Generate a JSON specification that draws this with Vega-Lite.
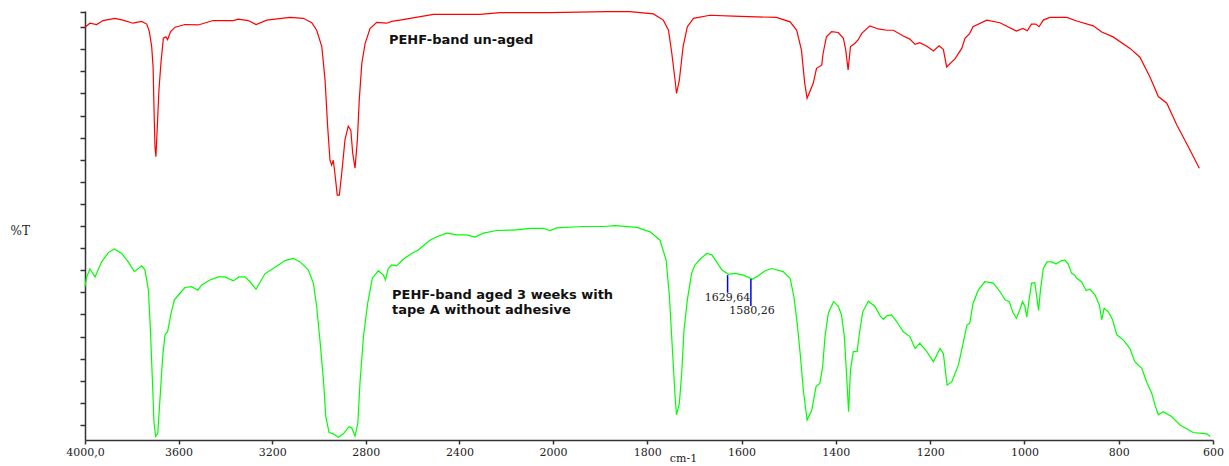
{
  "$schema": "https://vega.github.io/schema/vega-lite/v6.json",
  "autosize": "none",
  "width": 1128,
  "height": 429,
  "padding": {"left": 85, "top": 11, "right": 16, "bottom": 26},
  "background": "white",
  "config": {"view": {"stroke": null}},
  "layer": [
    {
      "data": {"values": [
        {"sample":"un-aged","wavenumber":4000,"T":90.0},{"sample":"un-aged","wavenumber":3979,"T":90.9},{"sample":"un-aged","wavenumber":3950,"T":90.6},{"sample":"un-aged","wavenumber":3923,"T":91.5},{"sample":"un-aged","wavenumber":3872,"T":92.0},{"sample":"un-aged","wavenumber":3838,"T":91.6},{"sample":"un-aged","wavenumber":3795,"T":90.9},{"sample":"un-aged","wavenumber":3758,"T":91.3},{"sample":"un-aged","wavenumber":3736,"T":90.7},{"sample":"un-aged","wavenumber":3725,"T":89.0},{"sample":"un-aged","wavenumber":3715,"T":85.6},{"sample":"un-aged","wavenumber":3709,"T":81.0},{"sample":"un-aged","wavenumber":3705,"T":71.3},{"sample":"un-aged","wavenumber":3701,"T":63.0},{"sample":"un-aged","wavenumber":3697,"T":60.7},{"sample":"un-aged","wavenumber":3691,"T":67.5},{"sample":"un-aged","wavenumber":3684,"T":75.8},{"sample":"un-aged","wavenumber":3675,"T":82.2},{"sample":"un-aged","wavenumber":3665,"T":87.5},{"sample":"un-aged","wavenumber":3654,"T":87.8},{"sample":"un-aged","wavenumber":3647,"T":87.2},{"sample":"un-aged","wavenumber":3634,"T":89.0},{"sample":"un-aged","wavenumber":3615,"T":90.0},{"sample":"un-aged","wavenumber":3573,"T":90.6},{"sample":"un-aged","wavenumber":3516,"T":90.5},{"sample":"un-aged","wavenumber":3452,"T":91.5},{"sample":"un-aged","wavenumber":3366,"T":91.5},{"sample":"un-aged","wavenumber":3345,"T":91.8},{"sample":"un-aged","wavenumber":3302,"T":91.5},{"sample":"un-aged","wavenumber":3269,"T":90.6},{"sample":"un-aged","wavenumber":3223,"T":91.6},{"sample":"un-aged","wavenumber":3124,"T":92.2},{"sample":"un-aged","wavenumber":3067,"T":92.0},{"sample":"un-aged","wavenumber":3031,"T":91.0},{"sample":"un-aged","wavenumber":3010,"T":89.3},{"sample":"un-aged","wavenumber":2988,"T":85.6},{"sample":"un-aged","wavenumber":2974,"T":78.0},{"sample":"un-aged","wavenumber":2963,"T":67.5},{"sample":"un-aged","wavenumber":2953,"T":59.9},{"sample":"un-aged","wavenumber":2946,"T":58.8},{"sample":"un-aged","wavenumber":2939,"T":59.9},{"sample":"un-aged","wavenumber":2932,"T":56.9},{"sample":"un-aged","wavenumber":2922,"T":52.0},{"sample":"un-aged","wavenumber":2913,"T":52.0},{"sample":"un-aged","wavenumber":2903,"T":56.9},{"sample":"un-aged","wavenumber":2889,"T":64.5},{"sample":"un-aged","wavenumber":2875,"T":67.6},{"sample":"un-aged","wavenumber":2864,"T":66.7},{"sample":"un-aged","wavenumber":2856,"T":61.5},{"sample":"un-aged","wavenumber":2846,"T":58.1},{"sample":"un-aged","wavenumber":2836,"T":64.5},{"sample":"un-aged","wavenumber":2828,"T":73.5},{"sample":"un-aged","wavenumber":2817,"T":81.8},{"sample":"un-aged","wavenumber":2803,"T":86.3},{"sample":"un-aged","wavenumber":2782,"T":89.7},{"sample":"un-aged","wavenumber":2753,"T":91.1},{"sample":"un-aged","wavenumber":2711,"T":90.9},{"sample":"un-aged","wavenumber":2689,"T":91.3},{"sample":"un-aged","wavenumber":2654,"T":91.6},{"sample":"un-aged","wavenumber":2511,"T":92.9},{"sample":"un-aged","wavenumber":2312,"T":92.9},{"sample":"un-aged","wavenumber":2226,"T":93.3},{"sample":"un-aged","wavenumber":2013,"T":93.3},{"sample":"un-aged","wavenumber":1886,"T":93.5},{"sample":"un-aged","wavenumber":1837,"T":93.5},{"sample":"un-aged","wavenumber":1787,"T":93.0},{"sample":"un-aged","wavenumber":1766,"T":91.6},{"sample":"un-aged","wavenumber":1755,"T":89.3},{"sample":"un-aged","wavenumber":1748,"T":84.1},{"sample":"un-aged","wavenumber":1741,"T":78.0},{"sample":"un-aged","wavenumber":1738,"T":75.0},{"sample":"un-aged","wavenumber":1732,"T":78.0},{"sample":"un-aged","wavenumber":1724,"T":85.6},{"sample":"un-aged","wavenumber":1715,"T":90.1},{"sample":"un-aged","wavenumber":1702,"T":92.0},{"sample":"un-aged","wavenumber":1667,"T":92.7},{"sample":"un-aged","wavenumber":1618,"T":92.5},{"sample":"un-aged","wavenumber":1526,"T":92.2},{"sample":"un-aged","wavenumber":1497,"T":91.2},{"sample":"un-aged","wavenumber":1483,"T":89.3},{"sample":"un-aged","wavenumber":1473,"T":84.8},{"sample":"un-aged","wavenumber":1466,"T":77.3},{"sample":"un-aged","wavenumber":1461,"T":73.9},{"sample":"un-aged","wavenumber":1448,"T":77.3},{"sample":"un-aged","wavenumber":1441,"T":80.7},{"sample":"un-aged","wavenumber":1430,"T":81.4},{"sample":"un-aged","wavenumber":1427,"T":84.1},{"sample":"un-aged","wavenumber":1420,"T":87.8},{"sample":"un-aged","wavenumber":1409,"T":89.0},{"sample":"un-aged","wavenumber":1395,"T":88.8},{"sample":"un-aged","wavenumber":1384,"T":87.5},{"sample":"un-aged","wavenumber":1379,"T":84.8},{"sample":"un-aged","wavenumber":1374,"T":80.3},{"sample":"un-aged","wavenumber":1369,"T":85.6},{"sample":"un-aged","wavenumber":1360,"T":86.3},{"sample":"un-aged","wavenumber":1353,"T":87.1},{"sample":"un-aged","wavenumber":1345,"T":88.6},{"sample":"un-aged","wavenumber":1328,"T":90.3},{"sample":"un-aged","wavenumber":1310,"T":89.6},{"sample":"un-aged","wavenumber":1292,"T":89.3},{"sample":"un-aged","wavenumber":1278,"T":89.3},{"sample":"un-aged","wavenumber":1257,"T":88.0},{"sample":"un-aged","wavenumber":1243,"T":87.3},{"sample":"un-aged","wavenumber":1232,"T":86.1},{"sample":"un-aged","wavenumber":1222,"T":86.5},{"sample":"un-aged","wavenumber":1207,"T":85.7},{"sample":"un-aged","wavenumber":1193,"T":84.6},{"sample":"un-aged","wavenumber":1181,"T":85.8},{"sample":"un-aged","wavenumber":1172,"T":85.0},{"sample":"un-aged","wavenumber":1165,"T":81.0},{"sample":"un-aged","wavenumber":1147,"T":82.9},{"sample":"un-aged","wavenumber":1133,"T":85.2},{"sample":"un-aged","wavenumber":1126,"T":87.5},{"sample":"un-aged","wavenumber":1116,"T":88.6},{"sample":"un-aged","wavenumber":1109,"T":90.1},{"sample":"un-aged","wavenumber":1080,"T":91.6},{"sample":"un-aged","wavenumber":1052,"T":91.0},{"sample":"un-aged","wavenumber":1017,"T":89.1},{"sample":"un-aged","wavenumber":1003,"T":89.7},{"sample":"un-aged","wavenumber":994,"T":89.2},{"sample":"un-aged","wavenumber":985,"T":90.7},{"sample":"un-aged","wavenumber":976,"T":90.7},{"sample":"un-aged","wavenumber":969,"T":90.1},{"sample":"un-aged","wavenumber":960,"T":91.6},{"sample":"un-aged","wavenumber":946,"T":92.2},{"sample":"un-aged","wavenumber":910,"T":92.2},{"sample":"un-aged","wavenumber":889,"T":91.4},{"sample":"un-aged","wavenumber":854,"T":90.3},{"sample":"un-aged","wavenumber":836,"T":88.9},{"sample":"un-aged","wavenumber":812,"T":87.8},{"sample":"un-aged","wavenumber":776,"T":85.2},{"sample":"un-aged","wavenumber":755,"T":83.2},{"sample":"un-aged","wavenumber":734,"T":78.8},{"sample":"un-aged","wavenumber":716,"T":74.3},{"sample":"un-aged","wavenumber":698,"T":72.8},{"sample":"un-aged","wavenumber":677,"T":67.9},{"sample":"un-aged","wavenumber":656,"T":63.7},{"sample":"un-aged","wavenumber":629,"T":58.1},
        {"sample":"aged","wavenumber":4000,"T":31.3},{"sample":"aged","wavenumber":3993,"T":33.5},{"sample":"aged","wavenumber":3979,"T":35.3},{"sample":"aged","wavenumber":3957,"T":33.5},{"sample":"aged","wavenumber":3929,"T":36.9},{"sample":"aged","wavenumber":3900,"T":39.0},{"sample":"aged","wavenumber":3875,"T":39.8},{"sample":"aged","wavenumber":3843,"T":38.8},{"sample":"aged","wavenumber":3815,"T":36.9},{"sample":"aged","wavenumber":3789,"T":34.7},{"sample":"aged","wavenumber":3758,"T":36.0},{"sample":"aged","wavenumber":3744,"T":35.1},{"sample":"aged","wavenumber":3729,"T":30.5},{"sample":"aged","wavenumber":3721,"T":22.2},{"sample":"aged","wavenumber":3712,"T":10.2},{"sample":"aged","wavenumber":3705,"T":0.4},{"sample":"aged","wavenumber":3698,"T":-2.6},{"sample":"aged","wavenumber":3689,"T":-1.9},{"sample":"aged","wavenumber":3679,"T":6.4},{"sample":"aged","wavenumber":3668,"T":15.4},{"sample":"aged","wavenumber":3658,"T":20.4},{"sample":"aged","wavenumber":3647,"T":21.1},{"sample":"aged","wavenumber":3632,"T":25.3},{"sample":"aged","wavenumber":3618,"T":28.3},{"sample":"aged","wavenumber":3594,"T":29.8},{"sample":"aged","wavenumber":3573,"T":31.1},{"sample":"aged","wavenumber":3544,"T":31.3},{"sample":"aged","wavenumber":3518,"T":30.5},{"sample":"aged","wavenumber":3501,"T":31.7},{"sample":"aged","wavenumber":3466,"T":32.8},{"sample":"aged","wavenumber":3430,"T":33.5},{"sample":"aged","wavenumber":3402,"T":33.5},{"sample":"aged","wavenumber":3366,"T":32.6},{"sample":"aged","wavenumber":3342,"T":33.5},{"sample":"aged","wavenumber":3316,"T":33.5},{"sample":"aged","wavenumber":3295,"T":32.4},{"sample":"aged","wavenumber":3269,"T":30.7},{"sample":"aged","wavenumber":3231,"T":34.2},{"sample":"aged","wavenumber":3188,"T":35.7},{"sample":"aged","wavenumber":3145,"T":37.2},{"sample":"aged","wavenumber":3110,"T":37.7},{"sample":"aged","wavenumber":3081,"T":36.9},{"sample":"aged","wavenumber":3046,"T":35.1},{"sample":"aged","wavenumber":3024,"T":32.1},{"sample":"aged","wavenumber":3010,"T":26.8},{"sample":"aged","wavenumber":2996,"T":19.2},{"sample":"aged","wavenumber":2981,"T":10.2},{"sample":"aged","wavenumber":2971,"T":1.9},{"sample":"aged","wavenumber":2957,"T":-1.7},{"sample":"aged","wavenumber":2939,"T":-2.0},{"sample":"aged","wavenumber":2917,"T":-2.8},{"sample":"aged","wavenumber":2896,"T":-2.0},{"sample":"aged","wavenumber":2872,"T":-0.4},{"sample":"aged","wavenumber":2860,"T":-0.7},{"sample":"aged","wavenumber":2846,"T":-2.5},{"sample":"aged","wavenumber":2834,"T":0.4},{"sample":"aged","wavenumber":2825,"T":9.4},{"sample":"aged","wavenumber":2810,"T":20.0},{"sample":"aged","wavenumber":2792,"T":27.5},{"sample":"aged","wavenumber":2772,"T":33.2},{"sample":"aged","wavenumber":2746,"T":34.9},{"sample":"aged","wavenumber":2725,"T":33.9},{"sample":"aged","wavenumber":2716,"T":32.8},{"sample":"aged","wavenumber":2704,"T":35.4},{"sample":"aged","wavenumber":2689,"T":36.2},{"sample":"aged","wavenumber":2668,"T":36.0},{"sample":"aged","wavenumber":2640,"T":37.5},{"sample":"aged","wavenumber":2604,"T":38.8},{"sample":"aged","wavenumber":2576,"T":39.6},{"sample":"aged","wavenumber":2526,"T":41.8},{"sample":"aged","wavenumber":2497,"T":42.6},{"sample":"aged","wavenumber":2454,"T":43.4},{"sample":"aged","wavenumber":2411,"T":43.0},{"sample":"aged","wavenumber":2369,"T":43.0},{"sample":"aged","wavenumber":2333,"T":42.5},{"sample":"aged","wavenumber":2298,"T":43.4},{"sample":"aged","wavenumber":2240,"T":44.0},{"sample":"aged","wavenumber":2169,"T":44.1},{"sample":"aged","wavenumber":2098,"T":44.5},{"sample":"aged","wavenumber":2041,"T":44.5},{"sample":"aged","wavenumber":2013,"T":44.0},{"sample":"aged","wavenumber":1992,"T":44.6},{"sample":"aged","wavenumber":1936,"T":44.9},{"sample":"aged","wavenumber":1893,"T":44.9},{"sample":"aged","wavenumber":1868,"T":45.1},{"sample":"aged","wavenumber":1822,"T":44.7},{"sample":"aged","wavenumber":1794,"T":43.7},{"sample":"aged","wavenumber":1773,"T":41.8},{"sample":"aged","wavenumber":1760,"T":37.3},{"sample":"aged","wavenumber":1753,"T":29.0},{"sample":"aged","wavenumber":1747,"T":17.7},{"sample":"aged","wavenumber":1741,"T":6.4},{"sample":"aged","wavenumber":1738,"T":2.3},{"sample":"aged","wavenumber":1732,"T":4.9},{"sample":"aged","wavenumber":1727,"T":11.7},{"sample":"aged","wavenumber":1722,"T":21.5},{"sample":"aged","wavenumber":1715,"T":28.3},{"sample":"aged","wavenumber":1706,"T":34.3},{"sample":"aged","wavenumber":1699,"T":36.2},{"sample":"aged","wavenumber":1688,"T":37.5},{"sample":"aged","wavenumber":1674,"T":38.8},{"sample":"aged","wavenumber":1663,"T":38.5},{"sample":"aged","wavenumber":1653,"T":36.9},{"sample":"aged","wavenumber":1642,"T":35.1},{"sample":"aged","wavenumber":1628,"T":34.1},{"sample":"aged","wavenumber":1614,"T":34.3},{"sample":"aged","wavenumber":1596,"T":33.9},{"sample":"aged","wavenumber":1577,"T":33.0},{"sample":"aged","wavenumber":1565,"T":33.7},{"sample":"aged","wavenumber":1550,"T":34.9},{"sample":"aged","wavenumber":1536,"T":35.4},{"sample":"aged","wavenumber":1512,"T":34.7},{"sample":"aged","wavenumber":1497,"T":33.2},{"sample":"aged","wavenumber":1489,"T":29.0},{"sample":"aged","wavenumber":1482,"T":23.0},{"sample":"aged","wavenumber":1475,"T":15.4},{"sample":"aged","wavenumber":1469,"T":7.9},{"sample":"aged","wavenumber":1461,"T":1.1},{"sample":"aged","wavenumber":1451,"T":3.4},{"sample":"aged","wavenumber":1442,"T":8.7},{"sample":"aged","wavenumber":1434,"T":9.4},{"sample":"aged","wavenumber":1428,"T":13.2},{"sample":"aged","wavenumber":1423,"T":20.0},{"sample":"aged","wavenumber":1416,"T":25.3},{"sample":"aged","wavenumber":1405,"T":27.9},{"sample":"aged","wavenumber":1395,"T":26.9},{"sample":"aged","wavenumber":1388,"T":24.9},{"sample":"aged","wavenumber":1382,"T":20.0},{"sample":"aged","wavenumber":1377,"T":10.9},{"sample":"aged","wavenumber":1373,"T":3.0},{"sample":"aged","wavenumber":1369,"T":12.4},{"sample":"aged","wavenumber":1363,"T":16.6},{"sample":"aged","wavenumber":1355,"T":16.6},{"sample":"aged","wavenumber":1350,"T":20.7},{"sample":"aged","wavenumber":1343,"T":25.6},{"sample":"aged","wavenumber":1331,"T":28.0},{"sample":"aged","wavenumber":1317,"T":26.8},{"sample":"aged","wavenumber":1306,"T":24.7},{"sample":"aged","wavenumber":1299,"T":23.9},{"sample":"aged","wavenumber":1292,"T":24.7},{"sample":"aged","wavenumber":1282,"T":24.9},{"sample":"aged","wavenumber":1271,"T":23.4},{"sample":"aged","wavenumber":1257,"T":21.1},{"sample":"aged","wavenumber":1243,"T":20.0},{"sample":"aged","wavenumber":1232,"T":17.3},{"sample":"aged","wavenumber":1222,"T":18.5},{"sample":"aged","wavenumber":1207,"T":16.6},{"sample":"aged","wavenumber":1193,"T":14.3},{"sample":"aged","wavenumber":1179,"T":17.3},{"sample":"aged","wavenumber":1172,"T":16.2},{"sample":"aged","wavenumber":1164,"T":9.0},{"sample":"aged","wavenumber":1154,"T":9.8},{"sample":"aged","wavenumber":1140,"T":13.6},{"sample":"aged","wavenumber":1130,"T":18.5},{"sample":"aged","wavenumber":1122,"T":22.6},{"sample":"aged","wavenumber":1116,"T":23.0},{"sample":"aged","wavenumber":1109,"T":27.5},{"sample":"aged","wavenumber":1098,"T":30.5},{"sample":"aged","wavenumber":1084,"T":32.4},{"sample":"aged","wavenumber":1066,"T":32.1},{"sample":"aged","wavenumber":1052,"T":30.2},{"sample":"aged","wavenumber":1041,"T":28.3},{"sample":"aged","wavenumber":1032,"T":27.9},{"sample":"aged","wavenumber":1025,"T":25.6},{"sample":"aged","wavenumber":1017,"T":24.1},{"sample":"aged","wavenumber":1010,"T":26.0},{"sample":"aged","wavenumber":1004,"T":27.9},{"sample":"aged","wavenumber":999,"T":26.8},{"sample":"aged","wavenumber":995,"T":24.4},{"sample":"aged","wavenumber":990,"T":28.3},{"sample":"aged","wavenumber":985,"T":32.1},{"sample":"aged","wavenumber":978,"T":32.2},{"sample":"aged","wavenumber":973,"T":28.3},{"sample":"aged","wavenumber":970,"T":25.9},{"sample":"aged","wavenumber":966,"T":30.5},{"sample":"aged","wavenumber":960,"T":35.4},{"sample":"aged","wavenumber":952,"T":36.9},{"sample":"aged","wavenumber":942,"T":36.9},{"sample":"aged","wavenumber":933,"T":36.4},{"sample":"aged","wavenumber":921,"T":37.2},{"sample":"aged","wavenumber":914,"T":37.3},{"sample":"aged","wavenumber":907,"T":36.4},{"sample":"aged","wavenumber":900,"T":34.3},{"sample":"aged","wavenumber":893,"T":33.9},{"sample":"aged","wavenumber":889,"T":33.2},{"sample":"aged","wavenumber":879,"T":32.4},{"sample":"aged","wavenumber":869,"T":30.4},{"sample":"aged","wavenumber":861,"T":30.7},{"sample":"aged","wavenumber":850,"T":29.4},{"sample":"aged","wavenumber":841,"T":27.1},{"sample":"aged","wavenumber":836,"T":23.8},{"sample":"aged","wavenumber":831,"T":26.4},{"sample":"aged","wavenumber":822,"T":25.6},{"sample":"aged","wavenumber":813,"T":23.8},{"sample":"aged","wavenumber":804,"T":20.4},{"sample":"aged","wavenumber":790,"T":19.2},{"sample":"aged","wavenumber":776,"T":17.3},{"sample":"aged","wavenumber":766,"T":14.3},{"sample":"aged","wavenumber":751,"T":12.8},{"sample":"aged","wavenumber":741,"T":9.8},{"sample":"aged","wavenumber":730,"T":7.2},{"sample":"aged","wavenumber":723,"T":4.5},{"sample":"aged","wavenumber":716,"T":2.3},{"sample":"aged","wavenumber":706,"T":3.0},{"sample":"aged","wavenumber":688,"T":1.9},{"sample":"aged","wavenumber":670,"T":0.0},{"sample":"aged","wavenumber":642,"T":-1.7},{"sample":"aged","wavenumber":613,"T":-2.0},{"sample":"aged","wavenumber":606,"T":-2.6}
      ]},
      "mark": {"type": "line", "strokeWidth": 1.2, "interpolate": "linear"},
      "encoding": {
        "x": {
          "field": "wavenumber", "type": "quantitative",
          "scale": {"type": "linear", "domain": [4000, 2000, 600], "range": [0, 468, 1128], "nice": false, "zero": false},
          "axis": {
            "values": [4000, 3600, 3200, 2800, 2400, 2000, 1800, 1600, 1400, 1200, 1000, 800, 600],
            "labelExpr": "datum.value == 4000 ? '4000,0' : '' + datum.value",
            "grid": false, "tickSize": 4, "tickWidth": 1.5, "labelPadding": 2, "labelBaseline": "top",
            "labelFont": "DejaVu Serif", "labelFontSize": 11, "labelColor": "#222222",
            "domainColor": "#333333", "tickColor": "#333333", "domainWidth": 1.5,
            "labelOverlap": false, "labelFlush": false,
            "title": "cm-1", "titleFont": "DejaVu Serif", "titleFontSize": 11, "titleFontWeight": "normal",
            "titleColor": "#222222", "titleX": 598, "titleY": 18, "titleAlign": "center", "titleBaseline": "middle", "titleAnchor": null
          }
        },
        "y": {
          "field": "T", "type": "quantitative",
          "scale": {"domain": [-3.4, 93.66], "nice": false, "zero": false},
          "axis": {
            "values": [0, 5, 10, 15, 20, 25, 30, 35, 40, 45, 50, 55, 60, 65, 70, 75, 80, 85, 90, 93.4],
            "labels": false, "grid": false, "tickSize": 5, "tickWidth": 1.5, "tickCount": 20,
            "domainColor": "#333333", "tickColor": "#333333", "domainWidth": 1.5,
            "title": "%T", "titleAngle": 0, "titleX": -75, "titleY": 219, "titleAlign": "left", "titleBaseline": "middle",
            "titleFont": "DejaVu Serif", "titleFontSize": 12, "titleFontWeight": "normal", "titleColor": "#222222"
          }
        },
        "color": {
          "field": "sample", "type": "nominal",
          "scale": {"domain": ["un-aged", "aged"], "range": ["#ff0000", "#00ff00"]},
          "legend": null
        },
        "detail": {"field": "sample"}
      }
    },
    {
      "data": {"values": [
        {"peak": 1629.64, "top": 33.9, "bottom": 29.9},
        {"peak": 1580.26, "top": 33.0, "bottom": 26.9}
      ]},
      "mark": {"type": "rule", "color": "#0000ff", "strokeWidth": 1.5},
      "encoding": {
        "x": {"field": "peak", "type": "quantitative"},
        "y": {"field": "top", "type": "quantitative"},
        "y2": {"field": "bottom"}
      }
    },
    {
      "data": {"values": [
        {"label": "1629,64", "wn": 1629.64, "T": 28.7},
        {"label": "1580,26", "wn": 1578, "T": 25.8}
      ]},
      "mark": {"type": "text", "font": "DejaVu Serif", "fontSize": 11, "color": "#222222", "align": "center", "baseline": "middle"},
      "encoding": {
        "x": {"field": "wn", "type": "quantitative"},
        "y": {"field": "T", "type": "quantitative"},
        "text": {"field": "label"}
      }
    },
    {
      "data": {"values": [
        {"label": "PEHF-band un-aged", "wn": 2701, "T": 87.1},
        {"label": "PEHF-band aged 3 weeks with", "wn": 2688, "T": 29.3},
        {"label": "tape A without adhesive", "wn": 2688, "T": 25.9}
      ]},
      "mark": {"type": "text", "font": "DejaVu Sans", "fontSize": 13, "fontWeight": "bold", "color": "#111111", "align": "left", "baseline": "middle"},
      "encoding": {
        "x": {"field": "wn", "type": "quantitative"},
        "y": {"field": "T", "type": "quantitative"},
        "text": {"field": "label"}
      }
    }
  ]
}
